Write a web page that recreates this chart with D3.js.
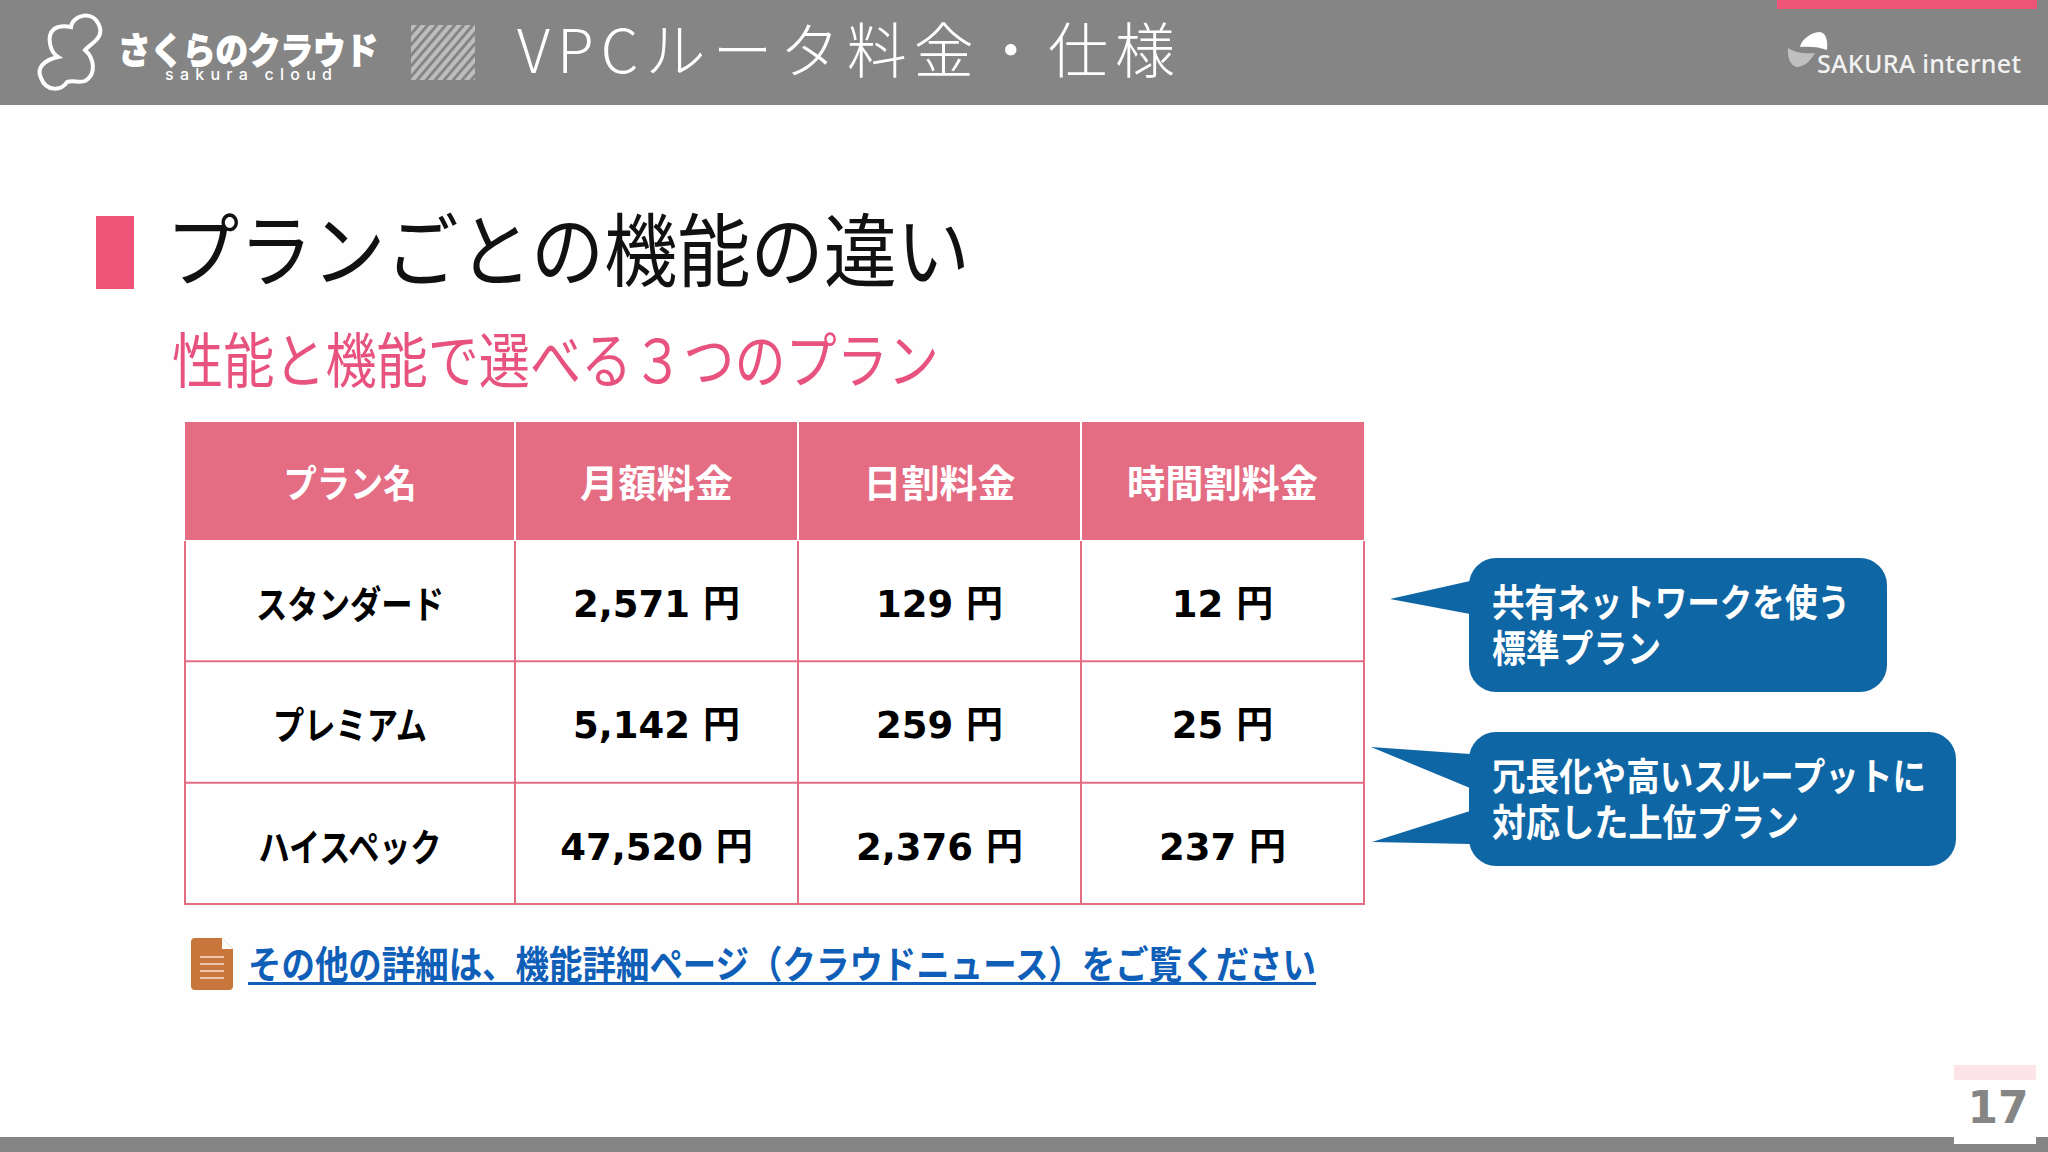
<!DOCTYPE html>
<html lang="ja">
<head>
<meta charset="utf-8">
<script src="https://cdn.jsdelivr.net/npm/d3@7/dist/d3.min.js"></script>
<style>
  html, body { margin: 0; padding: 0; background: #fefefe; overflow: hidden; }
  svg { display: block; }
  text { font-family: "Noto Sans CJK JP", sans-serif; }
</style>
</head>
<body>
<svg id="slide" width="2048" height="1152"></svg>
<script>
const columns = ["プラン名", "月額料金", "日割料金", "時間割料金"];
const columnWidths = [133, 153, 152, 191];
const plans = ["スタンダード", "プレミアム", "ハイスペック"];
const planWidths = [188, 154, 183];
const monthly = [2571, 5142, 47520];
const daily = [129, 259, 2376];
const hourly = [12, 25, 237];

const slideTitle = "VPCルータ料金・仕様";
const heading = "プランごとの機能の違い";
const subheading = "性能と機能で選べる３つのプラン";
const linkText = "その他の詳細は、機能詳細ページ（クラウドニュース）をご覧ください";
const note1 = ["共有ネットワークを使う", "標準プラン"];
const note2 = ["冗長化や高いスループットに", "対応した上位プラン"];

const PINK = "#e46d84";
const BLUE = "#0e66a5";
const formatYen = d3.format(",");

const svg = d3.select("#slide");

const label = (sel, str, x, y, size, fill, opts = {}) => {
  const t = sel.append("text")
    .attr("x", x)
    .attr("y", y)
    .attr("font-size", size)
    .attr("fill", fill)
    .attr("font-weight", opts.weight || 400)
    .attr("text-anchor", opts.anchor || "start")
    .text(str);
  if (opts.family) t.style("font-family", opts.family);
  if (opts.length) t.attr("textLength", opts.length).attr("lengthAdjust", opts.adjust || "spacing");
  return t;
};

// top band
const drawHeader = () => {
  const g = svg.append("g");
  g.append("rect").attr("width", 2048).attr("height", 105).attr("fill", "#858585");
  g.append("rect").attr("x", 1777).attr("width", 260).attr("height", 9).attr("fill", "#ee5478");

  g.append("path")
    .attr("d", "M71 27C72 16 92 9 99 25C105 38 90 44 85 50C94 58 97 74 85 81C80 83 72 80 67 82C62 91 46 92 41 78C36 68 44 60 58 57C50 52 46 36 54 29C60 25 66 26 71 27Z")
    .attr("fill", "none")
    .attr("stroke", "#fff")
    .attr("stroke-width", 4);

  label(g, "さくらのクラウド", 118, 64, 36, "#fff", { weight: 700, length: 260, adjust: "spacingAndGlyphs" })
    .attr("stroke", "#fff")
    .attr("stroke-width", 2);
  label(g, "sakura cloud", 165, 80, 16, "#fff", { family: "Inter, sans-serif", weight: 500, length: 167 });

  const defs = svg.append("defs");
  defs.append("clipPath").attr("id", "hatchClip")
    .append("rect").attr("x", 411).attr("y", 25).attr("width", 64).attr("height", 55);
  const hatch = g.append("g").attr("clip-path", "url(#hatchClip)");
  d3.range(-6, 9).forEach((i) => {
    hatch.append("line")
      .attr("x1", 411 + i * 9).attr("y1", 82)
      .attr("x2", 411 + i * 9 + 50).attr("y2", 23)
      .attr("stroke", "#bdbdbd")
      .attr("stroke-width", 4);
  });

  label(g, slideTitle, 517, 73, 60, "#fff", { weight: 300, length: 658 });

  g.append("path")
    .attr("d", "M1800 47C1802 38 1813 32 1820 32C1826 33 1828 40 1827 50C1820 47 1810 46 1800 47Z")
    .attr("fill", "#fff");
  g.append("path")
    .attr("d", "M1788 48C1796 53 1806 54 1815 53C1810 62 1803 67 1797 67C1790 66 1787 56 1788 48Z")
    .attr("fill", "#bfbfbf");
  label(g, "SAKURA internet", 1817, 73, 25, "#f2f2f2", { family: "'Noto Sans', sans-serif", weight: 500, length: 204 });
};

const drawHeading = () => {
  svg.append("rect").attr("x", 96).attr("y", 216).attr("width", 38).attr("height", 73).attr("fill", "#ee5478");
  label(svg, heading, 166, 280, 80, "#111", { length: 804, adjust: "spacingAndGlyphs" });
  label(svg, subheading, 172, 383, 60, "#e8527f", { length: 767, adjust: "spacingAndGlyphs" });
};

const drawTable = () => {
  const edges = [185, 515, 798, 1081, 1364];
  const colIndex = d3.range(columns.length);
  const left = d3.scaleOrdinal().domain(colIndex).range(edges.slice(0, 4));
  const right = d3.scaleOrdinal().domain(colIndex).range(edges.slice(1));
  const mid = (i) => (left(i) + right(i)) / 2;

  const top = 422;
  const headBottom = 540;
  const y = d3.scaleBand().domain(plans).range([headBottom, 904]);

  const g = svg.append("g");
  g.append("rect").attr("x", edges[0]).attr("y", top).attr("width", edges[4] - edges[0]).attr("height", headBottom - top).attr("fill", PINK);
  g.append("rect").attr("x", edges[0]).attr("y", headBottom).attr("width", edges[4] - edges[0]).attr("height", 364).attr("fill", "#fff");

  g.selectAll("text.head")
    .data(columns)
    .enter()
    .append("text")
    .attr("class", "head")
    .attr("x", (d, i) => mid(i))
    .attr("y", 497)
    .attr("text-anchor", "middle")
    .attr("font-size", 38)
    .attr("font-weight", 700)
    .attr("textLength", (d, i) => columnWidths[i])
    .attr("lengthAdjust", "spacingAndGlyphs")
    .attr("fill", "#fff")
    .text((d) => d);

  // white dividers in the header, pink in the body
  g.selectAll("line.headdiv")
    .data(edges.slice(1, 4))
    .enter()
    .append("line")
    .attr("class", "headdiv")
    .attr("x1", (d) => d).attr("x2", (d) => d)
    .attr("y1", top).attr("y2", headBottom + 1)
    .attr("stroke", "#fff")
    .attr("stroke-width", 2);

  g.selectAll("line.vert")
    .data(edges)
    .enter()
    .append("line")
    .attr("class", "vert")
    .attr("x1", (d) => d).attr("x2", (d) => d)
    .attr("y1", headBottom + 1).attr("y2", 905)
    .attr("stroke", PINK)
    .attr("stroke-width", 2);

  g.selectAll("line.horiz")
    .data(plans)
    .enter()
    .append("line")
    .attr("class", "horiz")
    .attr("x1", edges[0]).attr("x2", edges[4])
    .attr("y1", (d) => y(d) + y.bandwidth()).attr("y2", (d) => y(d) + y.bandwidth())
    .attr("stroke", PINK)
    .attr("stroke-width", 2);

  g.selectAll("text.plan")
    .data(plans)
    .enter()
    .append("text")
    .attr("class", "plan")
    .attr("x", mid(0))
    .attr("y", (d) => y(d) + 78)
    .attr("text-anchor", "middle")
    .attr("font-size", 38)
    .attr("font-weight", 700)
    .attr("textLength", (d, i) => planWidths[i])
    .attr("lengthAdjust", "spacingAndGlyphs")
    .attr("fill", "#000")
    .text((d) => d);

  [monthly, daily, hourly].forEach((series, k) => {
    g.selectAll(`text.val${k}`)
      .data(series)
      .enter()
      .append("text")
      .attr("class", `val${k}`)
      .attr("x", mid(k + 1))
      .attr("y", (d, i) => y(plans[i]) + 77)
      .attr("text-anchor", "middle")
      .attr("font-size", 37)
      .attr("font-weight", 700)
      .attr("fill", "#000")
      .style("font-family", "'DejaVu Sans', 'Noto Sans CJK JP', sans-serif")
      .text((d) => `${formatYen(d)} 円`);
  });
};

const drawNotes = () => {
  const g = svg.append("g");
  const box = (x0, y0, x1, y1, tails) => {
    g.append("rect")
      .attr("x", x0).attr("y", y0)
      .attr("width", x1 - x0).attr("height", y1 - y0)
      .attr("rx", 27)
      .attr("fill", BLUE);
    tails.forEach((p) => {
      g.append("path").attr("d", d3.line()(p)).attr("fill", BLUE);
    });
  };
  box(1469, 558, 1887, 692, [[[1390, 599], [1470, 581], [1470, 614]]]);
  box(1469, 732, 1956, 866, [
    [[1371, 747], [1470, 754], [1470, 788]],
    [[1372, 842], [1470, 811], [1470, 844]],
  ]);
  const opts = (length) => ({ weight: 700, length, adjust: "spacingAndGlyphs" });
  label(g, note1[0], 1492, 616, 38, "#fff", opts(358));
  label(g, note1[1], 1492, 662, 38, "#fff", opts(169));
  label(g, note2[0], 1492, 790, 38, "#fff", opts(434));
  label(g, note2[1], 1492, 836, 38, "#fff", opts(307));
};

const drawLink = () => {
  const g = svg.append("g");
  g.append("path")
    .attr("d", "M195 938H222L233 949V986Q233 990 229 990H195Q191 990 191 986V942Q191 938 195 938Z")
    .attr("fill", "#c8763c");
  g.append("path").attr("d", "M222 938L233 949H222Z").attr("fill", "#fff");
  [957, 964, 971, 978].forEach((ly) => {
    g.append("line").attr("x1", 200).attr("x2", 224).attr("y1", ly).attr("y2", ly)
      .attr("stroke", "#f6e0cc").attr("stroke-width", 1.5);
  });
  label(g, linkText, 248, 978, 38, "#0f5fb8", { weight: 700, length: 1068, adjust: "spacingAndGlyphs" });
  g.append("rect").attr("x", 248).attr("y", 982).attr("width", 1068).attr("height", 3).attr("fill", "#0f5fb8");
};

const drawFooter = () => {
  const g = svg.append("g");
  g.append("rect").attr("y", 1137).attr("width", 2048).attr("height", 15).attr("fill", "#858585");
  g.append("rect").attr("x", 1954).attr("y", 1080).attr("width", 82).attr("height", 64).attr("fill", "#fff");
  g.append("rect").attr("x", 1954).attr("y", 1065).attr("width", 82).attr("height", 15).attr("fill", "#fce4e9");
  label(g, "17", 1998, 1123, 44, "#858585", { family: "'DejaVu Sans', sans-serif", weight: 700, anchor: "middle" });
};

drawHeader();
drawHeading();
drawTable();
drawNotes();
drawLink();
drawFooter();
</script>
</body>
</html>
